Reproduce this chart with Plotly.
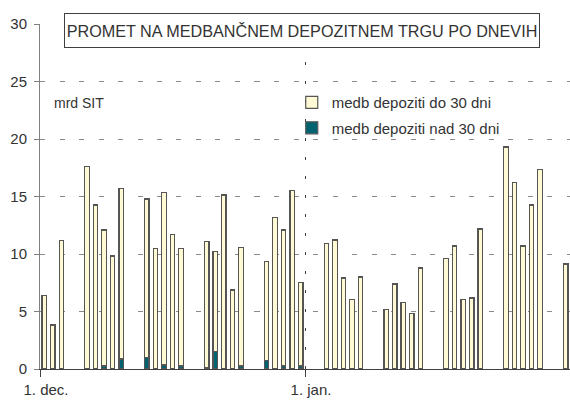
import plotly.graph_objects as go

# Trading days (Dec 1999 - Jan 2000)
days = [
    "1999-12-01", "1999-12-02", "1999-12-03",
    "1999-12-06", "1999-12-07", "1999-12-08", "1999-12-09", "1999-12-10",
    "1999-12-13", "1999-12-14", "1999-12-15", "1999-12-16", "1999-12-17",
    "1999-12-20", "1999-12-21", "1999-12-22", "1999-12-23", "1999-12-24",
    "1999-12-27", "1999-12-28", "1999-12-29", "1999-12-30", "1999-12-31",
    "2000-01-03", "2000-01-04", "2000-01-05", "2000-01-06", "2000-01-07",
    "2000-01-10", "2000-01-11", "2000-01-12", "2000-01-13", "2000-01-14",
    "2000-01-17", "2000-01-18", "2000-01-19", "2000-01-20", "2000-01-21",
    "2000-01-24", "2000-01-25", "2000-01-26", "2000-01-27", "2000-01-28",
    "2000-01-31",
]

# deposits up to 30 days (mrd SIT)
do_30 = [
    6.40, 3.83, 11.20,
    17.60, 14.26, 11.83, 9.83, 14.83,
    13.80, 10.46, 15.01, 11.70, 10.20,
    11.00, 8.73, 15.13, 6.87, 10.32,
    8.61, 13.19, 11.83, 15.54, 7.25,
    10.93, 11.22, 7.91, 6.03, 8.00,
    5.16, 7.39, 5.80, 4.81, 8.78,
    9.62, 10.70, 6.03, 6.17, 12.17,
    19.30, 16.23, 10.70, 14.26, 17.33,
    9.13,
]

# deposits over 30 days (mrd SIT)
nad_30 = [
    0, 0, 0,
    0, 0, 0.26, 0, 0.87,
    0.98, 0, 0.35, 0, 0.26,
    0.10, 1.50, 0, 0, 0.26,
    0.75, 0, 0.26, 0, 0.26,
    0, 0, 0, 0, 0,
    0, 0, 0, 0, 0,
    0, 0, 0, 0, 0,
    0, 0, 0, 0, 0,
    0,
]

tick_vals = ["1999-12-01", "2000-01-01"]
tick_text = ["1. dec.", "1. jan."]
y_ticks = [0, 5, 10, 15, 20, 25, 30]

FONT = "Liberation Sans, Arial, sans-serif"
TXT = "#333333"
DAY_MS = 86400000

fig = go.Figure()
fig.add_trace(go.Bar(
    x=days, y=nad_30, name="medb depoziti nad 30 dni",
    xperiod=DAY_MS, xperiodalignment="middle",
    marker=dict(color="#00636F", line=dict(color="#555555", width=1.2)),
    legendgroup="b", legendrank=2,
))
fig.add_trace(go.Bar(
    x=days, y=do_30, name="medb depoziti do 30 dni",
    xperiod=DAY_MS, xperiodalignment="middle",
    marker=dict(color="#FFFAD4", line=dict(color="#555555", width=1.2)),
    legendgroup="a", legendrank=1,
))

fig.update_layout(
    width=570, height=403,
    margin=dict(l=40, r=0, t=24, b=34),
    paper_bgcolor="white", plot_bgcolor="white",
    barmode="stack", bargap=0.48,
    font=dict(family=FONT, size=15, color=TXT),
    showlegend=True,
    legend=dict(
        x=0.475, y=0.82, xanchor="left", yanchor="top",
        bgcolor="rgba(0,0,0,0)", font=dict(size=15, color=TXT),
        traceorder="grouped", tracegroupgap=3,
    ),
    xaxis=dict(
        type="date",
        range=["1999-12-01", "2000-02-01"],
        tickvals=tick_vals, ticktext=tick_text,
        ticks="outside", ticklen=7, tickcolor="#404040",
        ticklabelshift=6,
        showline=True, linecolor="#404040", linewidth=1,
        showgrid=True, gridcolor="#404040", griddash="3px,16px", gridwidth=1,
        zeroline=False,
        tickfont=dict(size=15, color=TXT),
    ),
    yaxis=dict(
        range=[0, 30],
        tickvals=y_ticks,
        ticks="outside", ticklen=5, tickcolor="#808080",
        ticklabelstandoff=4,
        showline=True, linecolor="#808080", linewidth=1,
        showgrid=True, gridcolor="#8a8a8a", griddash="5px,14.5px", gridwidth=1,
        zeroline=False,
        tickfont=dict(size=15, color=TXT),
    ),
    annotations=[
        dict(
            text="PROMET NA MEDBANČNEM DEPOZITNEM TRGU PO DNEVIH",
            xref="paper", yref="paper", x=0.495, y=0.981,
            xanchor="center", yanchor="middle", showarrow=False,
            width=474, height=33, borderpad=0,
            bordercolor="#404040", borderwidth=1, bgcolor="white",
            font=dict(family=FONT, size=16.2, color=TXT),
        ),
        dict(
            text="mrd SIT", xref="paper", yref="paper",
            x=0.0226, y=0.771, xanchor="left", yanchor="middle",
            showarrow=False, font=dict(family=FONT, size=14, color=TXT),
        ),
    ],
)

# Remove the default 8px page margin so the 570x403 figure fills the window.
fig.write_html(
    "out.html",
    config={"displayModeBar": False},
    post_script="document.body.style.margin='0';document.body.style.overflow='hidden';",
)
